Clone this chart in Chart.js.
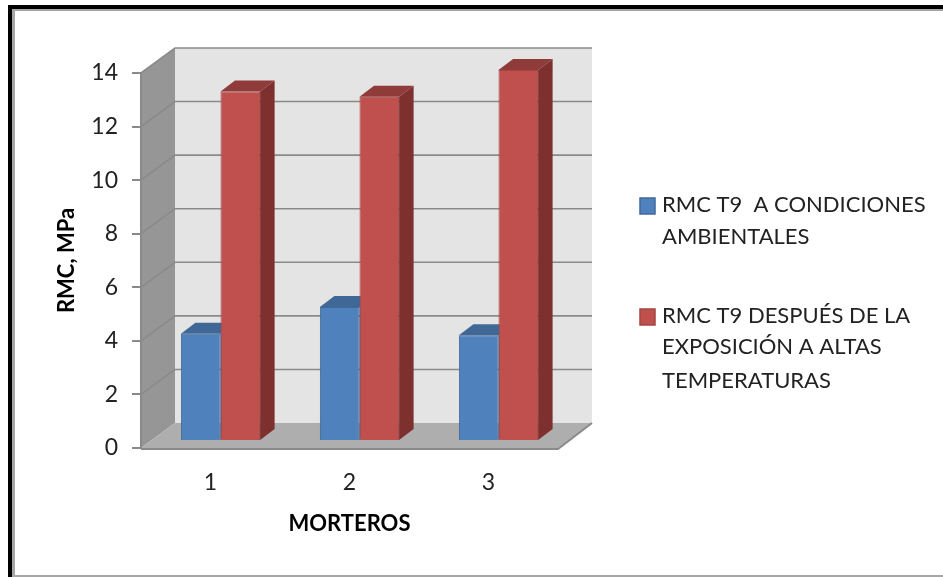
<!DOCTYPE html>
<html>
<head>
<meta charset="utf-8">
<title>RMC morteros</title>
<script src="https://cdn.jsdelivr.net/npm/chart.js@4/dist/chart.umd.min.js"></script>
<style>
  body { margin: 0; background: #fff; }
  canvas { display: block; }
</style>
</head>
<body>
<canvas id="rmc" width="943" height="577"></canvas>
<script>
// data
var categories = ['1', '2', '3'];
var ambientValues = [4.0, 5.0, 3.95];
var heatedValues = [13.05, 12.85, 13.85];
var ambientLines = ['RMC T9  A CONDICIONES', 'AMBIENTALES'];
var heatedLines = ['RMC T9 DESPUÉS DE LA', 'EXPOSICIÓN A ALTAS', 'TEMPERATURAS'];
var yMax = 14;
var yStep = 2;

var FONT = 'Lato, "Open Sans", sans-serif';
var wallDepth = { x: 34, y: -25 };   // front plane to back wall
var barShift = { x: 10, y: -7 };     // front plane to front of the bars
var barDepth = { x: 14.5, y: -11 };

function poly(ctx, points, fill) {
  ctx.beginPath();
  points.forEach(function (p, i) {
    if (i === 0) ctx.moveTo(p[0], p[1]);
    else ctx.lineTo(p[0], p[1]);
  });
  ctx.closePath();
  ctx.fillStyle = fill;
  ctx.fill();
}

// black frame plus the fake 3d room behind the bars
var roomPlugin = {
  id: 'room',
  beforeDraw: function (chart) {
    var ctx = chart.ctx;
    var a = chart.chartArea;
    var dx = wallDepth.x, dy = wallDepth.y;

    ctx.save();
    ctx.fillStyle = '#fff';
    ctx.fillRect(0, 0, chart.width, chart.height);
    ctx.fillStyle = '#000';
    ctx.fillRect(8, 5, 935, 4);
    ctx.fillRect(8, 5, 4, 572);
    ctx.fillStyle = '#a6a6a6';
    ctx.fillRect(12, 9, 931, 2);
    ctx.fillRect(12, 9, 3, 568);
    ctx.fillRect(12, 575, 931, 2);

    poly(ctx, [[a.left + dx, a.top + dy], [a.right + dx, a.top + dy], [a.right + dx, a.bottom + dy], [a.left + dx, a.bottom + dy]], '#e4e4e4');
    poly(ctx, [[a.left, a.top], [a.left + dx, a.top + dy], [a.left + dx, a.bottom + dy], [a.left, a.bottom]], '#969696');
    poly(ctx, [[a.left, a.bottom], [a.left + dx, a.bottom + dy], [a.right + dx, a.bottom + dy], [a.right, a.bottom]], '#aeaeae');

    ctx.strokeStyle = '#8a8a8a';
    ctx.lineWidth = 1.6;
    chart.scales.y.ticks.forEach(function (t) {
      if (t.value === 0) return;
      var y = chart.scales.y.getPixelForValue(t.value);
      ctx.beginPath();
      ctx.moveTo(a.left, y);
      ctx.lineTo(a.left + dx, y + dy);
      ctx.lineTo(a.right + dx, y + dy);
      ctx.stroke();
    });
    ctx.lineWidth = 2;
    ctx.beginPath();
    ctx.moveTo(a.left, a.bottom + 1);
    ctx.lineTo(a.right, a.bottom + 1);
    ctx.lineTo(a.right + dx, a.bottom + dy);
    ctx.stroke();
    ctx.restore();
  },
  beforeDatasetsDraw: function (chart) {
    var ctx = chart.ctx;
    ctx.save();
    ctx.translate(barShift.x, barShift.y);
    chart.data.datasets.forEach(function (ds, i) {
      chart.getDatasetMeta(i).data.forEach(function (bar) {
        var l = bar.x - bar.width / 2, r = bar.x + bar.width / 2;
        var dx = barDepth.x, dy = barDepth.y;
        poly(ctx, [[r, bar.y], [r + dx, bar.y + dy], [r + dx, bar.base + dy], [r, bar.base]], ds.sideColor);
        poly(ctx, [[l, bar.y], [l + dx, bar.y + dy], [r + dx, bar.y + dy], [r, bar.y]], ds.topColor);
      });
    });
  },
  afterDatasetsDraw: function (chart) {
    chart.ctx.restore();
  }
};

// the legend has wrapped labels, so it gets drawn by hand
var sideLegend = {
  id: 'sideLegend',
  afterDraw: function (chart) {
    var ctx = chart.ctx;
    var rows = [
      { lines: ambientLines, top: 198, ys: [205, 237] },
      { lines: heatedLines, top: 309, ys: [316, 347, 381] }
    ];
    ctx.save();
    ctx.font = '22px ' + FONT;
    ctx.textBaseline = 'middle';
    ctx.textAlign = 'left';
    rows.forEach(function (row, i) {
      var ds = chart.data.datasets[i];
      ctx.fillStyle = ds.backgroundColor;
      ctx.strokeStyle = ds.borderColor;
      ctx.lineWidth = 1.5;
      ctx.fillRect(640, row.top, 15, 16);
      ctx.strokeRect(640, row.top, 15, 16);
      ctx.fillStyle = '#222';
      row.lines.forEach(function (line, j) {
        ctx.fillText(line, 662, row.ys[j]);
      });
    });
    ctx.restore();
  }
};

new Chart(document.getElementById('rmc'), {
  type: 'bar',
  data: {
    labels: categories,
    datasets: [
      {
        label: ambientLines.join(' '),
        data: ambientValues,
        backgroundColor: '#4f81bd',
        borderColor: '#42699a',
        topColor: '#3f6897',
        sideColor: '#3a6190',
        clip: false
      },
      {
        label: heatedLines.join(' '),
        data: heatedValues,
        backgroundColor: '#c0504d',
        borderColor: '#a34543',
        topColor: '#8f3b39',
        sideColor: '#7d302e',
        clip: false
      }
    ]
  },
  options: {
    responsive: false,
    animation: false,
    layout: { padding: { left: 54, top: 73, right: 385, bottom: 40 } },
    datasets: { bar: { categoryPercentage: 0.57, barPercentage: 1, borderWidth: 1 } },
    plugins: { legend: { display: false }, tooltip: { enabled: false } },
    scales: {
      x: {
        afterFit: function (scale) { scale.height = 89; },
        grid: { display: false },
        border: { display: false },
        ticks: { color: '#222', padding: 13, font: { family: FONT, size: 23 }, maxRotation: 0 },
        title: { display: true, text: 'MORTEROS', color: '#000', padding: 0, font: { family: FONT, size: 22, weight: 'bold' } }
      },
      y: {
        min: 0,
        max: yMax,
        afterFit: function (scale) { scale.width = 87; },
        grid: { drawOnChartArea: false, color: '#8a8a8a', tickLength: 9, lineWidth: 2 },
        border: { color: '#8a8a8a', width: 2 },
        ticks: { stepSize: yStep, color: '#222', padding: 14, font: { family: FONT, size: 23 } },
        title: { display: true, text: 'RMC, MPa', color: '#000', padding: 0, font: { family: FONT, size: 22, weight: 'bold' } }
      }
    }
  },
  plugins: [roomPlugin, sideLegend]
});
</script>
</body>
</html>
